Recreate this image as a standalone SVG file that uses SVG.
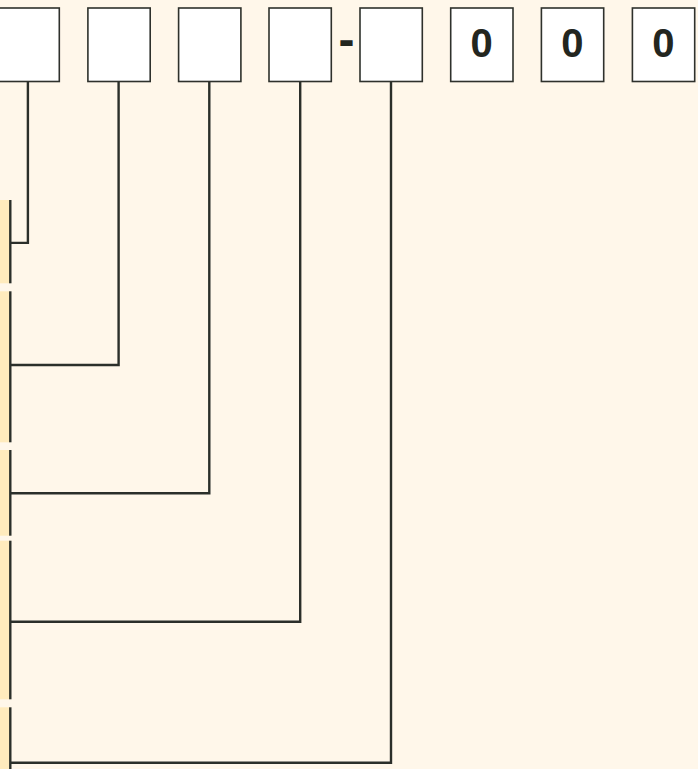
<svg xmlns="http://www.w3.org/2000/svg" width="698" height="769" viewBox="0 0 698 769">
  <style>
    .box { fill: #ffffff; stroke: #2e312c; stroke-width: 1.6; }
    .digit { font-family: "Liberation Sans", Arial, sans-serif; font-weight: bold; font-size: 40px; fill: #23261f; text-anchor: middle; }
    .dash { font-family: "Liberation Sans", Arial, sans-serif; font-weight: bold; font-size: 48px; fill: #23261f; text-anchor: middle; }
    .bar { fill: #ffebbd; }
    .edge { stroke: #2b2f2a; stroke-width: 2.4; fill: none; }
    .conn { stroke: #2b2f2a; stroke-width: 2.4; fill: none; }
  </style>
  <rect x="0" y="0" width="698" height="769" fill="#fff7ea"/>

  <g id="left-bars">
    <rect class="bar" x="0" y="200" width="10" height="83.3"/>
    <line class="edge" x1="10.3" y1="200" x2="10.3" y2="283.3"/>
    <rect class="bar" x="0" y="291.3" width="10" height="151"/>
    <line class="edge" x1="10.3" y1="291.3" x2="10.3" y2="442.3"/>
    <rect class="bar" x="0" y="450" width="10" height="85.7"/>
    <line class="edge" x1="10.3" y1="450" x2="10.3" y2="535.7"/>
    <rect class="bar" x="0" y="540.7" width="10" height="158.6"/>
    <line class="edge" x1="10.3" y1="540.7" x2="10.3" y2="699.3"/>
    <rect class="bar" x="0" y="707.3" width="10" height="62"/>
    <line class="edge" x1="10.3" y1="707.3" x2="10.3" y2="769"/>
  </g>

  <g id="connectors">
    <polyline class="conn" points="27.9,82 27.9,242.9 11,242.9"/>
    <polyline class="conn" points="118.6,82 118.6,365 11,365"/>
    <polyline class="conn" points="209.3,82 209.3,493.3 11,493.3"/>
    <polyline class="conn" points="300.2,82 300.2,621.7 11,621.7"/>
    <polyline class="conn" points="391,82 391,762.7 11,762.7"/>
  </g>

  <g id="box1"><rect class="box" x="-3.5" y="8" width="62.8" height="73.5"/></g>
  <g id="box2"><rect class="box" x="87.9" y="8" width="62.3" height="73.5"/></g>
  <g id="box3"><rect class="box" x="178.6" y="8" width="62.3" height="73.5"/></g>
  <g id="box4"><rect class="box" x="269" y="8" width="62.3" height="73.5"/></g>
  <g id="dash"><text class="dash" x="346.6" y="56.2">-</text></g>
  <g id="box5"><rect class="box" x="360" y="8" width="62.3" height="73.5"/></g>
  <g id="box6"><rect class="box" x="450.7" y="8" width="62.3" height="73.5"/><text class="digit" x="481.5" y="57.3">0</text></g>
  <g id="box7"><rect class="box" x="541.4" y="8" width="62.3" height="73.5"/><text class="digit" x="572.3" y="57.3">0</text></g>
  <g id="box8"><rect class="box" x="632.4" y="8" width="62.3" height="73.5"/><text class="digit" x="663.3" y="57.3">0</text></g>
</svg>
